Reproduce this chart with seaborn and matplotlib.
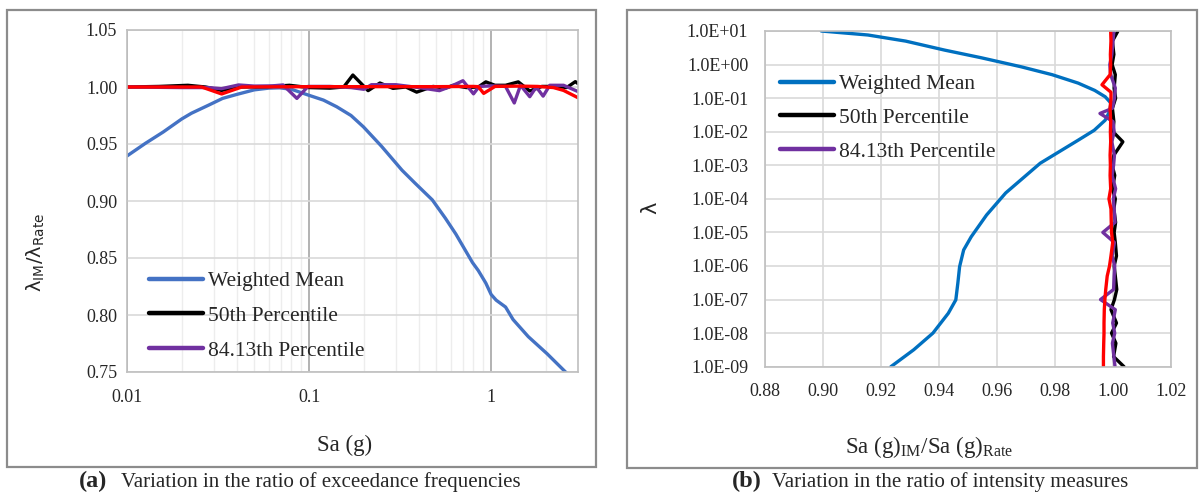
import matplotlib
matplotlib.use("Agg")
import matplotlib.pyplot as plt
from matplotlib.patches import Rectangle
from matplotlib.ticker import FixedLocator, FixedFormatter, LogLocator, NullFormatter, NullLocator
import seaborn as sns

# ---------------- data: panel (a) ----------------
a_x_ticks = [0.01, 0.1, 1]
a_x_ticklabels = ["0.01", "0.1", "1"]
a_y_ticks = [0.75, 0.80, 0.85, 0.90, 0.95, 1.00, 1.05]
a_y_ticklabels = ["0.75", "0.80", "0.85", "0.90", "0.95", "1.00", "1.05"]

a_mean_x = [0.01, 0.0126, 0.0158, 0.02, 0.0226, 0.028, 0.0335, 0.0403, 0.05, 0.06, 0.0688, 0.08,
            0.0987, 0.12, 0.1417, 0.17, 0.199, 0.25, 0.324, 0.38, 0.475, 0.56, 0.64, 0.72, 0.79,
            0.85, 0.935, 1.0, 1.066, 1.2, 1.32, 1.6, 2.03, 2.6, 3.0]
a_mean_y = [0.9395, 0.9505, 0.9605, 0.972, 0.977, 0.984, 0.990, 0.9936, 0.9975, 0.9990, 0.9993, 0.998,
            0.993, 0.9885, 0.9827, 0.975, 0.965, 0.948, 0.927, 0.916, 0.901, 0.885, 0.871, 0.857, 0.846,
            0.839, 0.828, 0.818, 0.813, 0.807, 0.796, 0.781, 0.766, 0.749, 0.738]

a_p50_x = [0.01, 0.015, 0.0216, 0.027, 0.033, 0.042, 0.06, 0.078, 0.1, 0.13, 0.155, 0.174, 0.211,
           0.245, 0.289, 0.34, 0.39, 0.48, 0.56, 0.62, 0.73, 0.85, 0.935, 1.05, 1.2, 1.41, 1.63,
           1.9, 2.3, 2.6, 2.9, 3.0]
a_p50_y = [1.000, 1.0005, 1.0015, 1.000, 0.9970, 1.000, 1.0003, 1.0015, 0.9995, 0.9990, 1.000, 1.0105,
           0.9968, 1.0035, 0.9988, 1.000, 0.9955, 1.0005, 0.999, 1.0015, 0.9995, 1.000, 1.0045, 1.0015,
           1.0015, 1.0045, 0.9965, 1.0005, 1.0005, 0.9995, 1.0047, 1.003]

a_p84_x = [0.01, 0.02, 0.028, 0.033, 0.041, 0.05, 0.063, 0.072, 0.0857, 0.0987, 0.13, 0.17, 0.2,
           0.22, 0.3, 0.4, 0.52, 0.6, 0.70, 0.80, 0.86, 1.0, 1.2, 1.34, 1.45, 1.63, 1.77, 1.93,
           2.1, 2.5, 3.0]
a_p84_y = [1.000, 0.9995, 0.9995, 0.9985, 1.0018, 1.0008, 1.001, 1.0018, 0.990, 1.0005, 1.0005, 0.9995,
           0.998, 1.002, 1.002, 0.9995, 0.9968, 1.0005, 1.0055, 0.994, 1.0005, 1.001, 1.0005, 0.986,
           1.0015, 0.9915, 1.000, 0.992, 1.0015, 1.0015, 0.996]

a_red_x = [0.01, 0.0257, 0.0331, 0.0427, 0.1, 0.2, 0.5, 0.8, 0.85, 0.91, 1.05, 1.4, 1.8, 2.2, 2.5, 3.0]
a_red_y = [1.000, 1.000, 0.9939, 1.000, 1.0003, 1.0003, 1.0003, 1.0005, 1.0003, 0.9944, 1.0005,
           1.0008, 1.0005, 0.9995, 0.997, 0.9906]

# ---------------- data: panel (b) ----------------
b_x_ticks = [0.88, 0.90, 0.92, 0.94, 0.96, 0.98, 1.00, 1.02]
b_x_ticklabels = ["0.88", "0.90", "0.92", "0.94", "0.96", "0.98", "1.00", "1.02"]
b_y_ticks = [1e1, 1e0, 1e-1, 1e-2, 1e-3, 1e-4, 1e-5, 1e-6, 1e-7, 1e-8, 1e-9]
b_y_ticklabels = ["1.0E+01", "1.0E+00", "1.0E-01", "1.0E-02", "1.0E-03", "1.0E-04",
                  "1.0E-05", "1.0E-06", "1.0E-07", "1.0E-08", "1.0E-09"]

b_mean_lam = [10, 7.6, 5.0, 2.7, 1.6, 0.86, 0.5, 0.28, 0.17, 0.11, 0.071, 0.04, 0.022, 0.011,
              0.0056, 1.15e-3, 5.8e-4, 1.5e-4, 3.3e-5, 7.4e-6, 3.0e-6, 9.5e-7, 3.1e-7, 9.8e-8,
              3.9e-8, 1.0e-8, 3.2e-9, 1.0e-9]
b_mean_ratio = [0.8994, 0.9155, 0.9285, 0.9419, 0.9545, 0.9683, 0.9790, 0.988, 0.9937, 0.9973,
                0.9993, 0.9988, 0.9973, 0.9935, 0.988, 0.9749, 0.9709, 0.963, 0.9564, 0.9511,
                0.9485, 0.9471, 0.9465, 0.9458, 0.9432, 0.9379, 0.9313, 0.9234]

b_p50_lam = [10, 5, 2, 1, 0.5, 0.2, 0.1, 0.05, 0.02, 0.01, 5e-3, 2e-3, 1e-3, 5e-4, 2e-4, 1e-4,
             5e-5, 2e-5, 1e-5, 5e-6, 2e-6, 1e-6, 5e-7, 2e-7, 1e-7, 5e-8, 2e-8, 1e-8, 5e-9, 2e-9, 1e-9]
b_p50_ratio = [1.0017, 0.9998, 1.0003, 0.9997, 1.0008, 1.0004, 1.0009, 0.9998, 1.0003, 1.0000,
               1.0034, 1.0003, 0.9997, 1.0006, 0.9998, 1.0008, 1.0003, 1.0009, 1.0004, 1.0008,
               1.0012, 1.0004, 1.0008, 1.0013, 1.0005, 0.9993, 1.0012, 0.9995, 1.0010, 1.0002, 1.0038]

b_p84_lam = [10, 5, 2, 1, 0.5, 0.2, 0.1, 0.05, 0.035, 0.02, 0.01, 5e-3, 2e-3, 1e-3, 5e-4, 2e-4,
             1e-4, 5e-5, 2e-5, 1e-5, 5e-6, 2e-6, 1e-6, 5e-7, 2e-7, 1e-7, 5e-8, 2e-8, 1e-8, 5e-9,
             2e-9, 1e-9]
b_p84_ratio = [1.0003, 1.0000, 0.9996, 0.9989, 0.9992, 1.0008, 1.0005, 0.9998, 0.9955, 1.0000,
               1.0004, 0.9996, 1.0005, 1.0002, 0.9997, 1.0009, 1.0001, 1.0004, 1.0007, 0.9965,
               1.0005, 0.9997, 1.0006, 1.0004, 1.0002, 0.9957, 1.0008, 0.9999, 1.0006, 0.9998,
               1.0003, 1.0007]

b_red_lam = [10, 5, 2, 1, 0.5, 0.25, 0.15, 0.1, 0.05, 0.02, 0.01, 5e-3, 2e-3, 1e-3, 5e-4, 2e-4,
             1e-4, 5e-5, 2e-5, 1e-5, 5e-6, 2e-6, 1e-6, 5e-7, 2e-7, 1e-7, 5e-8, 2e-8, 1e-8, 5e-9,
             2e-9, 1e-9]
b_red_ratio = [0.9992, 0.9993, 0.9991, 0.9992, 0.9990, 0.9962, 0.9993, 0.9993, 0.9990, 0.9992,
               0.9991, 0.9992, 0.9990, 0.9991, 0.9990, 0.9992, 0.9986, 0.9993, 0.9994, 0.9995,
               0.9999, 0.9993, 0.9988, 0.9980, 0.9975, 0.9972, 0.9970, 0.9969, 0.9969, 0.9968,
               0.9967, 0.9967]

series_labels = ["Weighted Mean", "50th Percentile", "84.13th Percentile"]

# ---------------- style ----------------
sns.set_style("white")
plt.rcParams["font.family"] = ["Liberation Serif", "DejaVu Sans"]
plt.rcParams["mathtext.fontset"] = "dejavusans"

W, H = 1201, 501
fig = plt.figure(figsize=(W / 100, H / 100), dpi=100)


def fx(px):
    return px / W


def fy(py):
    return 1 - py / H


# outer panel frames
for (x0, y0, x1, y1) in [(7, 10, 596, 467), (627, 10, 1197, 468)]:
    fig.patches.append(Rectangle((fx(x0), fy(y1)), fx(x1) - fx(x0), fy(y0) - fy(y1),
                                 transform=fig.transFigure, fill=False,
                                 edgecolor="#8C8C8C", lw=1.6))

axA = fig.add_axes([fx(127), fy(372), fx(578) - fx(127), fy(30) - fy(372)])
axB = fig.add_axes([fx(765), fy(366.7), fx(1171) - fx(765), fy(31) - fy(366.7)])

LW = 2.4
blueA, blueB = "#4472C4", "#0070C0"
purple = "#7030A0"

# panel (a)
sns.lineplot(x=a_mean_x, y=a_mean_y, ax=axA, color=blueA, lw=LW, label=series_labels[0], sort=False, estimator=None)
sns.lineplot(x=a_p50_x, y=a_p50_y, ax=axA, color="black", lw=LW, label=series_labels[1], sort=False, estimator=None)
sns.lineplot(x=a_p84_x, y=a_p84_y, ax=axA, color=purple, lw=LW, label=series_labels[2], sort=False, estimator=None)
sns.lineplot(x=a_red_x, y=a_red_y, ax=axA, color="red", lw=LW, sort=False, estimator=None)

axA.set_xscale("log")
axA.set_xlim(0.01, 3.0)
axA.set_ylim(0.75, 1.05)
axA.xaxis.set_major_locator(FixedLocator(a_x_ticks))
axA.xaxis.set_major_formatter(FixedFormatter(a_x_ticklabels))
axA.xaxis.set_minor_locator(LogLocator(base=10, subs=range(2, 10)))
axA.xaxis.set_minor_formatter(NullFormatter())
axA.yaxis.set_major_locator(FixedLocator(a_y_ticks))
axA.yaxis.set_major_formatter(FixedFormatter(a_y_ticklabels))
axA.grid(which="minor", axis="x", color="#EDEDED", lw=1.0)
axA.grid(which="major", axis="x", color="#A6A6A6", lw=1.2)
axA.grid(which="major", axis="y", color="#D9D9D9", lw=1.2)
axA.set_axisbelow(True)
axA.tick_params(axis="both", which="both", length=0, labelsize=13)
axA.tick_params(axis="x", pad=12)
axA.tick_params(axis="y", pad=7)
axA.set_xlabel("")
axA.set_ylabel("")
for s in axA.spines.values():
    s.set_color("#BFBFBF")
    s.set_linewidth(1.2)
legA = axA.legend(loc="upper left", bbox_to_anchor=(0.0488, 0.295), frameon=False,
                  fontsize=15.5, handlelength=2.5, handletextpad=0.25, labelspacing=0.68,
                  borderpad=0, borderaxespad=0)
for h in legA.get_lines():
    h.set_linewidth(3.2)

# panel (b)
sns.lineplot(x=b_mean_ratio, y=b_mean_lam, ax=axB, color=blueB, lw=LW, label=series_labels[0], sort=False, estimator=None)
sns.lineplot(x=b_p50_ratio, y=b_p50_lam, ax=axB, color="black", lw=LW, label=series_labels[1], sort=False, estimator=None)
sns.lineplot(x=b_p84_ratio, y=b_p84_lam, ax=axB, color=purple, lw=LW, label=series_labels[2], sort=False, estimator=None)
sns.lineplot(x=b_red_ratio, y=b_red_lam, ax=axB, color="red", lw=LW, sort=False, estimator=None)

axB.set_yscale("log")
axB.set_xlim(0.88, 1.02)
axB.set_ylim(1e-9, 1e1)
axB.xaxis.set_major_locator(FixedLocator(b_x_ticks))
axB.xaxis.set_major_formatter(FixedFormatter(b_x_ticklabels))
axB.yaxis.set_major_locator(FixedLocator(b_y_ticks))
axB.yaxis.set_major_formatter(FixedFormatter(b_y_ticklabels))
axB.yaxis.set_minor_locator(NullLocator())
axB.grid(which="major", axis="both", color="#D9D9D9", lw=1.2)
axB.set_axisbelow(True)
axB.tick_params(axis="both", which="both", length=0, labelsize=13)
axB.tick_params(axis="x", pad=12)
axB.tick_params(axis="y", pad=12)
axB.set_xlabel("")
axB.set_ylabel("")
for s in axB.spines.values():
    s.set_color("#BFBFBF")
    s.set_linewidth(1.2)
legB = axB.legend(loc="upper left", bbox_to_anchor=(0.037, 0.871), frameon=False,
                  fontsize=15.5, handlelength=2.5, handletextpad=0.25, labelspacing=0.63,
                  borderpad=0, borderaxespad=0)
for h in legB.get_lines():
    h.set_linewidth(3.2)

# axis labels
fig.text(fx(345), fy(445), "Sa (g)", ha="center", va="center", fontsize=16.5)
fig.text(fx(36), fy(252), r"λ$_{\mathregular{IM}}$/λ$_{\mathregular{Rate}}$", rotation=90,
         ha="center", va="center", fontsize=14, family=["DejaVu Sans"])
fig.text(fx(929), fy(447), r"Sa (g)$_{\mathregular{IM}}$/Sa (g)$_{\mathregular{Rate}}$",
         ha="center", va="center", fontsize=16.5)
fig.text(fx(650), fy(208), "λ", rotation=90, ha="center", va="center", fontsize=15,
         family=["DejaVu Sans"])

# captions
fig.text(fx(78.5), fy(481), "(a)", ha="left", va="center", fontsize=17.5, fontweight="bold")
fig.text(fx(120.5), fy(482), "Variation in the ratio of exceedance frequencies", ha="left",
         va="center", fontsize=15)
fig.text(fx(732), fy(481), "(b)", ha="left", va="center", fontsize=17.5, fontweight="bold")
fig.text(fx(772), fy(482), "Variation in the ratio of intensity measures", ha="left",
         va="center", fontsize=15)

fig.savefig("out.png", dpi=100)
